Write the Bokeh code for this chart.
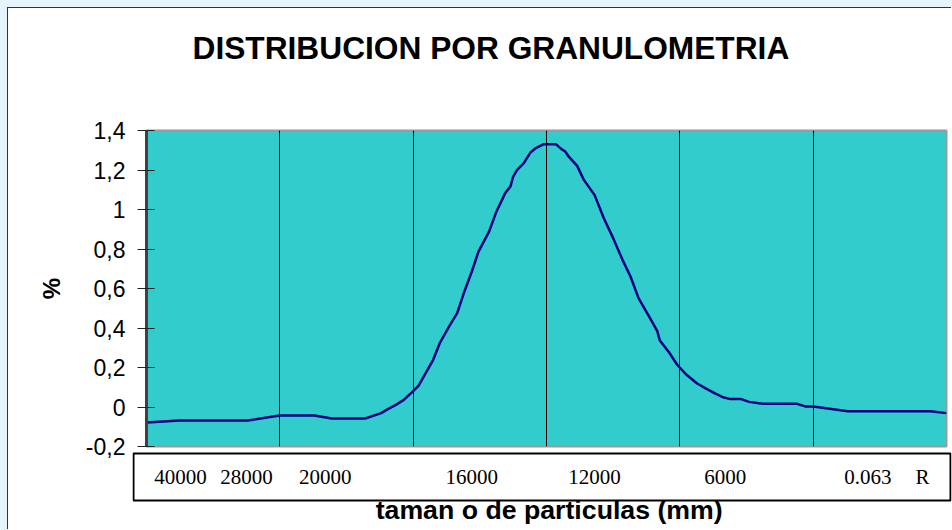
from bokeh.plotting import figure
from bokeh.layouts import column
from bokeh.models import FixedTicker, Range1d, Title
from bokeh.core.properties import value
from bokeh.embed import file_html
from bokeh.resources import INLINE

# ---- data ----
x_pos = [0, 0.25, 0.76, 1.0, 1.26, 1.39, 1.64, 1.76, 1.81, 1.87, 1.93, 2.0,
         2.04, 2.08, 2.15, 2.2, 2.27, 2.33, 2.38, 2.44, 2.49, 2.57, 2.62, 2.69,
         2.73, 2.75, 2.78, 2.83, 2.88, 2.92, 2.98, 3.03, 3.07, 3.11, 3.14, 3.17,
         3.23, 3.28, 3.36, 3.43, 3.5, 3.57, 3.63, 3.69, 3.77, 3.83, 3.85, 3.92,
         3.98, 4.05, 4.13, 4.19, 4.26, 4.33, 4.38, 4.46, 4.52, 4.62, 4.88, 4.94,
         5.0, 5.26, 5.88, 6.0]
y_pct = [-0.078, -0.068, -0.068, -0.043, -0.043, -0.058, -0.058, -0.031, -0.011,
         0.011, 0.036, 0.08, 0.107, 0.155, 0.239, 0.324, 0.408, 0.475, 0.577,
         0.686, 0.787, 0.889, 0.982, 1.083, 1.117, 1.167, 1.201, 1.235, 1.289,
         1.311, 1.331, 1.331, 1.331, 1.307, 1.294, 1.265, 1.221, 1.150, 1.074,
         0.956, 0.855, 0.745, 0.661, 0.551, 0.458, 0.386, 0.337, 0.276, 0.214,
         0.163, 0.119, 0.096, 0.070, 0.048, 0.040, 0.040, 0.026, 0.016, 0.016,
         0.003, 0.003, -0.021, -0.021, -0.031]

size_labels = ["40000", "28000", "20000", "16000", "12000", "6000", "0.063", "R"]
size_label_pos = [0.255, 0.75, 1.34, 2.44, 3.36, 4.34, 5.41, 5.82]
grid_pos = [1, 2, 3, 4, 5]
y_ticks = [-0.2, 0, 0.2, 0.4, 0.6, 0.8, 1.0, 1.2, 1.4]
y_tick_labels = ["-0,2", "0", "0,2", "0,4", "0,6", "0,8", "1", "1,2", "1,4"]

title_text = "DISTRIBUCION POR GRANULOMETRIA"
x_title = "taman o de particulas (mm)"
y_title = "%"

X0, X1 = 0, 6
FRAME_W = 800
PPU = FRAME_W / (X1 - X0)


def no_frame_align(fig):
    if "frame_align" in type(fig).properties():
        fig.frame_align = False


# ---------------- main chart ----------------
p = figure(width=944, height=462, x_range=Range1d(X0, X1), y_range=Range1d(-0.2, 1.4),
           output_backend="svg", toolbar_location=None,
           min_border_left=138, min_border_right=6, min_border_top=122,
           min_border_bottom=24)
no_frame_align(p)
p.background_fill_color = "#33CCCC"
p.border_fill_color = None
p.outline_line_color = "#9a9a9a"
p.outline_line_width = 2

p.line(x_pos, y_pct, line_color="#000080", line_width=2.5)

p.ygrid.visible = False
p.xgrid.ticker = FixedTicker(ticks=grid_pos)
p.xgrid.grid_line_color = "black"
p.xgrid.grid_line_width = 1
p.xaxis.visible = False

p.yaxis.ticker = FixedTicker(ticks=y_ticks)
p.yaxis.major_label_overrides = {t: l for t, l in zip(y_ticks, y_tick_labels)}
p.yaxis.major_label_text_font = "Liberation Sans"
p.yaxis.major_label_text_font_size = "23px"
p.yaxis.major_label_text_color = "black"
p.yaxis.major_label_standoff = 12
p.yaxis.major_tick_in = 8
p.yaxis.major_tick_out = 9
p.yaxis.major_tick_line_color = "#222222"
p.yaxis.minor_tick_line_color = None
p.yaxis.axis_line_color = "#404040"
p.yaxis.axis_line_width = 3
p.yaxis.axis_label = y_title
p.yaxis.axis_label_text_font = "Liberation Sans"
p.yaxis.axis_label_text_font_style = "bold"
p.yaxis.axis_label_text_font_size = "24px"
p.yaxis.axis_label_text_color = "black"
p.yaxis.axis_label_standoff = 18

# spacer then title (later "above" items stack farther from the frame)
p.add_layout(Title(text=" ", text_font_size="43px"), "above")
p.add_layout(Title(text=title_text, align="left", offset=46,
                   text_font="Liberation Sans", text_font_style="bold",
                   text_font_size="31.7px", text_color="black"), "above")

# ---------------- boxed size labels + axis title ----------------
# this strip's y range is in pixels measured up from the page bottom
q = figure(width=944, height=80,
           x_range=Range1d(X0 - 14 / PPU, X0 + 805 / PPU), y_range=Range1d(0, 80),
           output_backend="svg", toolbar_location=None,
           min_border_left=124, min_border_right=1, min_border_top=0,
           min_border_bottom=0, margin=(-20, 0, 0, 0))
no_frame_align(q)
q.background_fill_color = None
q.border_fill_color = None
q.outline_line_color = None
q.xaxis.visible = False
q.yaxis.visible = False
q.xgrid.visible = False
q.ygrid.visible = False

q.quad(left=[X0 - 13 / PPU], right=[X0 + 804 / PPU], bottom=[30], top=[77],
       fill_color="white", line_color="black", line_width=2)
q.text(x=size_label_pos, y=[53.5] * len(size_labels), text=size_labels,
       text_font=value("Liberation Serif"), text_font_size="21px",
       text_align="center", text_baseline="middle", text_color="black")
q.text(x=[(X0 + X1) / 2 + 0.02], y=[21], text=[x_title],
       text_font=value("Liberation Sans"), text_font_style="bold",
       text_font_size="26.7px", text_align="center", text_baseline="middle",
       text_color="black")

root = column(p, q, margin=(8, 0, 0, 8), spacing=0,
              styles={"box-shadow": "-1px -1px 0 0 #333333, -8px -8px 0 8px #e6f4fc",
                      "background-color": "white"})

open("out.html", "w").write(file_html(root, INLINE))
